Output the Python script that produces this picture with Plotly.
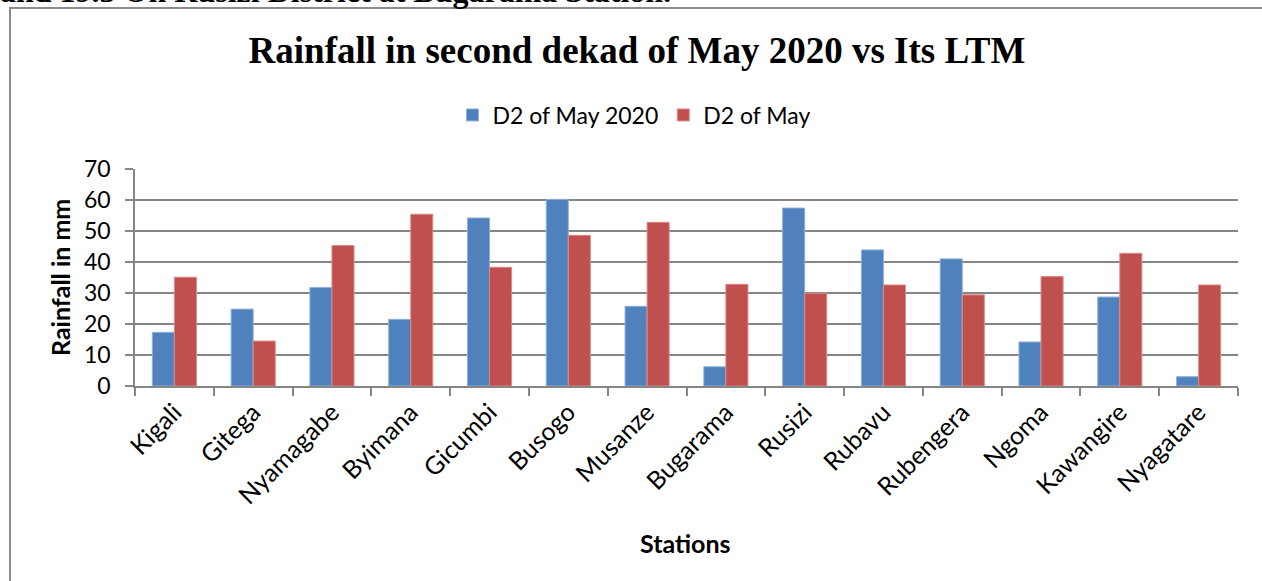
import plotly.graph_objects as go

stations = ["Kigali", "Gitega", "Nyamagabe", "Byimana", "Gicumbi", "Busogo", "Musanze",
            "Bugarama", "Rusizi", "Rubavu", "Rubengera", "Ngoma", "Kawangire", "Nyagatare"]
d2_may_2020 = [17.3, 24.8, 31.8, 21.5, 54.2, 60.2, 25.7, 6.2, 57.4, 43.9, 41.0, 14.2, 28.7, 3.0]
d2_may_ltm = [35.1, 14.5, 45.3, 55.4, 38.3, 48.6, 52.8, 32.8, 29.9, 32.6, 29.4, 35.3, 42.8, 32.6]
series_names = ["D2 of May 2020", "D2 of May"]
y_ticks = [0, 10, 20, 30, 40, 50, 60, 70]

W, H = 1262, 581
L, R, T, B = 135, 24, 169, 195
pw, ph = W - L - R, H - T - B

def px_x(x):
    return (x - L) / pw

def px_y(y):
    return 1 - (y - T) / ph

blue = "#4F81BD"
red = "#C0504D"
grid = "#868686"
sans = "Lato"
serif = "Liberation Serif"
fs = 23

fig = go.Figure()
fig.add_trace(go.Bar(x=stations, y=d2_may_2020, name=series_names[0],
                     marker=dict(color=blue, line=dict(color="#8FB0DA", width=1))))
fig.add_trace(go.Bar(x=stations, y=d2_may_ltm, name=series_names[1],
                     marker=dict(color=red, line=dict(color="#DB8A88", width=1))))

fig.update_layout(
    width=W, height=H,
    margin=dict(l=L, r=R, t=T, b=B, autoexpand=False),
    paper_bgcolor="white", plot_bgcolor="white",
    barmode="group", bargap=0.44, bargroupgap=0,
    font=dict(family=sans, size=fs, color="black"),
    title=dict(text="<b>Rainfall in second dekad of May 2020 vs Its LTM</b>",
               font=dict(family=serif, size=37, color="black"),
               x=637 / W, xanchor="center", y=1 - 50 / H, yanchor="middle"),
    legend=dict(orientation="h", x=px_x(634), xanchor="center", y=px_y(115), yanchor="middle",
                font=dict(family=sans, size=fs, color="black"), bgcolor="rgba(0,0,0,0)",
                itemwidth=30, traceorder="normal"),
    showlegend=True,
)

fig.update_xaxes(type="category", tickangle=-45, showline=True, linecolor=grid, linewidth=1.5,
                 ticks="outside", tickson="boundaries", ticklen=8, tickcolor=grid, tickwidth=1.5,
                 showgrid=False, tickfont=dict(family=sans, size=25, color="black"))
fig.update_yaxes(range=[0, 70], tickvals=y_ticks, showline=True, linecolor=grid, linewidth=1.5,
                 ticks="outside", ticklen=8, tickcolor=grid, tickwidth=1.5, ticklabelstandoff=10,
                 showgrid=True, gridcolor=grid, gridwidth=2, zeroline=False,
                 tickfont=dict(family=sans, size=fs, color="black"))

# frame around the chart
fig.add_shape(type="rect", xref="paper", yref="paper",
              x0=px_x(10), x1=px_x(W + 20), y0=px_y(H + 20), y1=px_y(8),
              line=dict(color="#8C8C8C", width=2), fillcolor="rgba(0,0,0,0)", layer="below")

# caption fragment cut off at the top
fig.add_annotation(text="<b>and 19.3 On Rusizi District at Bugarama Station.</b>",
                   xref="paper", yref="paper", x=px_x(-2), xanchor="left",
                   y=px_y(11), yanchor="bottom", showarrow=False,
                   font=dict(family=serif, size=32, color="black"))

# axis titles
fig.add_annotation(text="<b>Rainfall in mm</b>", xref="paper", yref="paper",
                   x=px_x(60), y=px_y(278), textangle=-90, showarrow=False,
                   xanchor="center", yanchor="middle",
                   font=dict(family=sans, size=25, color="black"))
fig.add_annotation(text="<b>Stations</b>", xref="paper", yref="paper",
                   x=px_x(685), y=px_y(543), showarrow=False,
                   xanchor="center", yanchor="middle",
                   font=dict(family=sans, size=25, color="black"))

fig.write_html("out.html", config={"displayModeBar": False},
               post_script="document.body.style.margin='0';")
